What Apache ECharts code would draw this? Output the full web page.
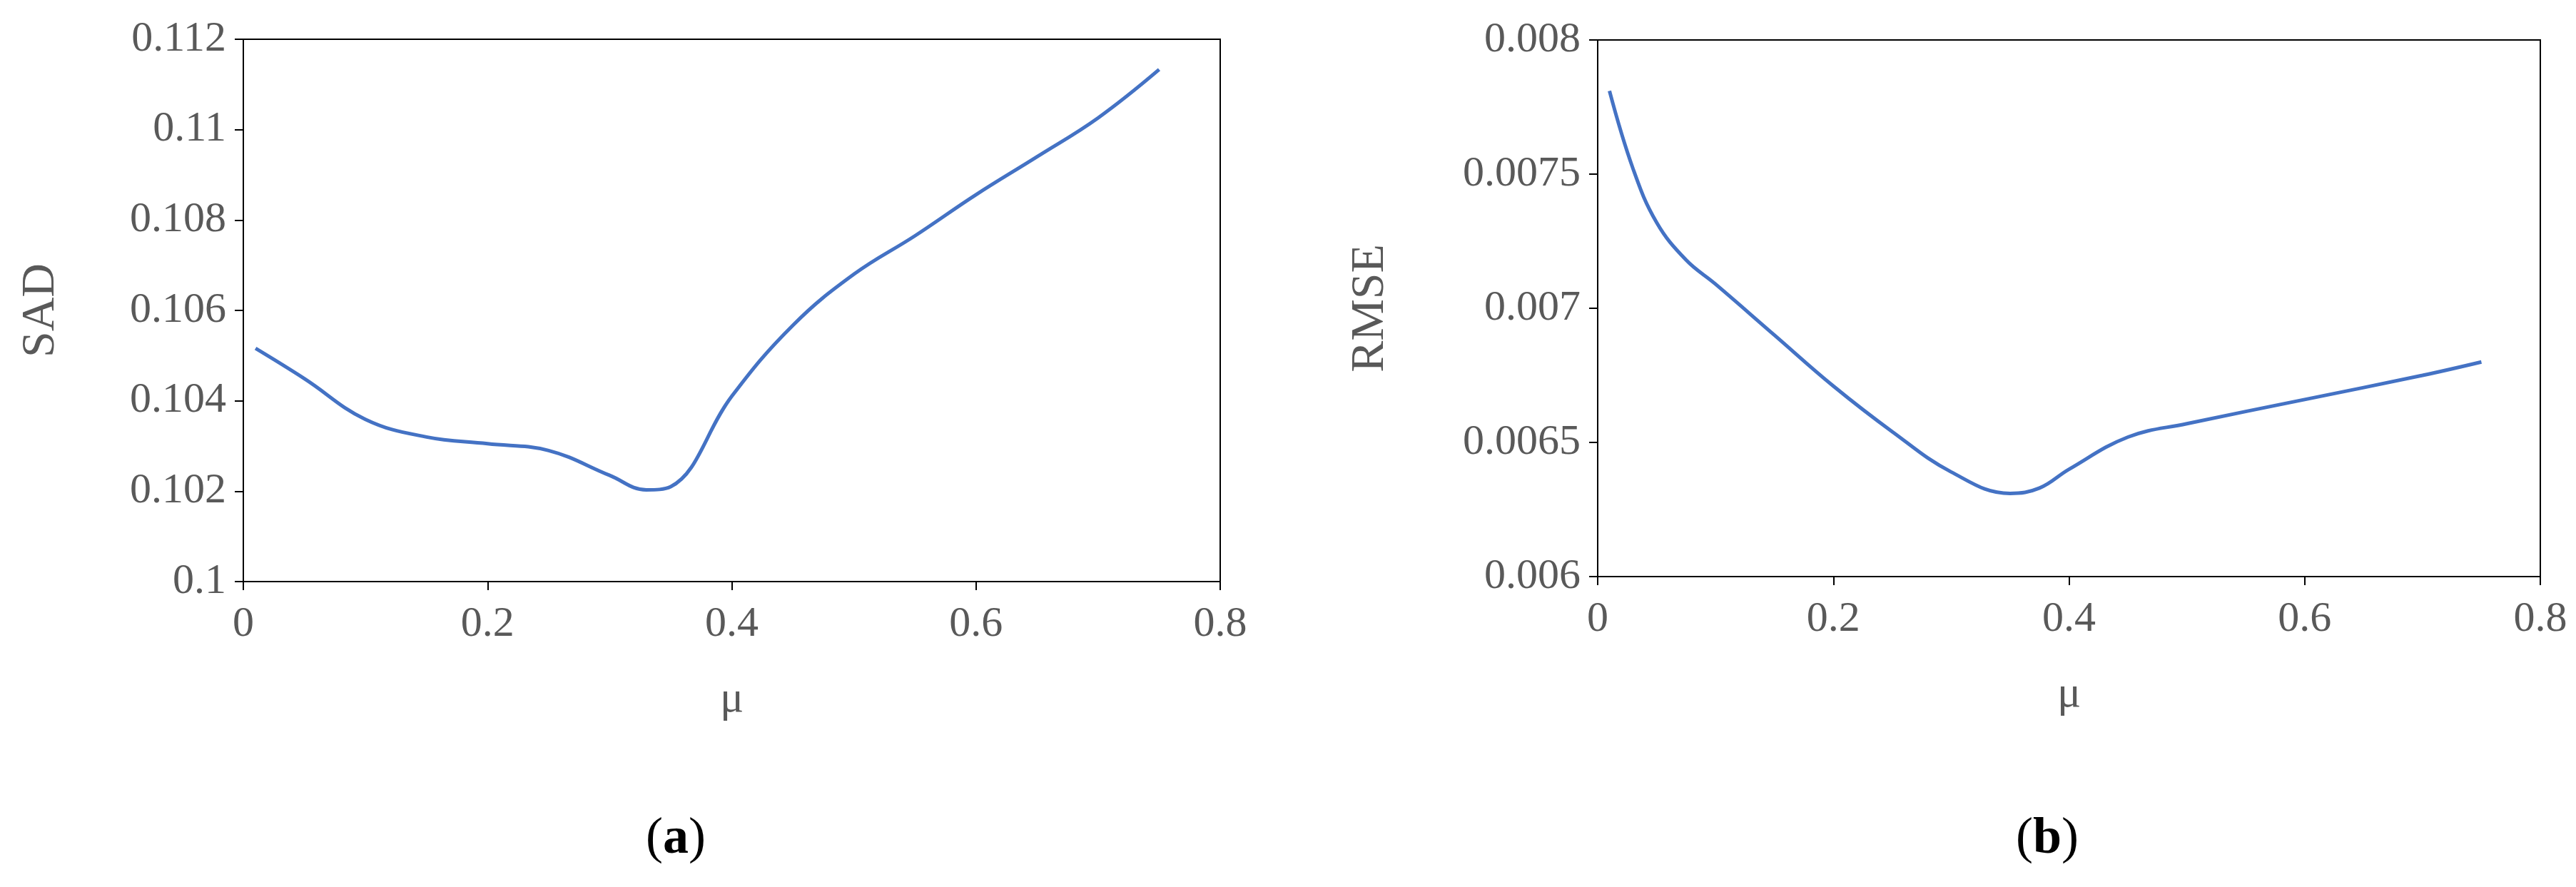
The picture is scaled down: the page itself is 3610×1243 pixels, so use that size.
<!DOCTYPE html>
<html>
<head>
<meta charset="utf-8">
<script src="https://cdn.jsdelivr.net/npm/echarts@6/dist/echarts.min.js"></script>
<style>html,body{margin:0;background:#fff}#chart{width:3610px;height:1243px}</style>
</head>
<body>
<div id="chart"></div>
<script>
// panel (a): SAD vs mu
var muA = [0.01, 0.05, 0.1, 0.15, 0.2, 0.25, 0.3, 0.33, 0.35, 0.4, 0.45, 0.5, 0.55, 0.6, 0.65, 0.7, 0.75];
var sadVals = [0.10516, 0.10449, 0.10359, 0.1032, 0.10305, 0.1029, 0.10235, 0.10203, 0.1021, 0.1041, 0.10567, 0.1068, 0.10765, 0.10856, 0.1094, 0.11026, 0.11133];
// panel (b): RMSE vs mu
var muB = [0.01, 0.03, 0.05, 0.075, 0.1, 0.15, 0.2, 0.25, 0.3, 0.35, 0.375, 0.4, 0.45, 0.5, 0.6, 0.7, 0.75];
var rmseVals = [0.00781, 0.00752, 0.00732, 0.00718, 0.00709, 0.0069, 0.00671, 0.00654, 0.00639, 0.00631, 0.00633, 0.0064, 0.00652, 0.00657, 0.00666, 0.00675, 0.0068];

var font = 'Liberation Serif';
var grey = '#595959';

function xAx(idx) {
	return {
		type : 'value', gridIndex : idx, min : 0, max : 0.8, interval : 0.2,
		name : 'μ', nameLocation : 'middle', nameGap : 135,
		nameTextStyle : { fontFamily : font, fontSize : 62, color : grey },
		axisLine : { lineStyle : { color : '#000', width : 2 } },
		axisTick : { show : true, length : 12, lineStyle : { color : '#000', width : 2 } },
		axisLabel : { fontFamily : font, fontSize : 60, color : grey, margin : 30 },
		splitLine : { show : false }
	};
}
function yAx(idx, name, min, max, step, dec, gap) {
	return {
		type : 'value', gridIndex : idx, min : min, max : max, interval : step,
		name : name, nameLocation : 'middle', nameGap : gap,
		nameTextStyle : { fontFamily : font, fontSize : 66, color : grey },
		axisLine : { show : true, lineStyle : { color : '#000', width : 2 } },
		axisTick : { show : true, length : 12, lineStyle : { color : '#000', width : 2 } },
		axisLabel : { fontFamily : font, fontSize : 60, color : grey, margin : 24,
			formatter : function(v) { return parseFloat(v.toFixed(dec)).toString(); } },
		splitLine : { show : false }
	};
}
function pairs(xs, ys) { return xs.map(function(x, i) { return [x, ys[i]]; }); }

var option = {
	animation : false,
	grid : [
		{ left : 341, top : 55, width : 1369, height : 760, show : true, borderColor : '#000', borderWidth : 2 },
		{ left : 2239, top : 56, width : 1321, height : 752, show : true, borderColor : '#000', borderWidth : 2 }
	],
	xAxis : [ xAx(0), xAx(1) ],
	yAxis : [
		yAx(0, 'SAD', 0.1, 0.112, 0.002, 3, 250),
		yAx(1, 'RMSE', 0.006, 0.008, 0.0005, 4, 285)
	],
	graphic : [
		{ type : 'text', left : 905, top : 1140, style : { text : '{p|(}{b|a}{p|)}', rich : {
			p : { fontFamily : font, fontSize : 72, fill : '#000' },
			b : { fontFamily : font, fontSize : 72, fill : '#000', fontWeight : 'bold' } } } },
		{ type : 'text', left : 2825, top : 1140, style : { text : '{p|(}{b|b}{p|)}', rich : {
			p : { fontFamily : font, fontSize : 72, fill : '#000' },
			b : { fontFamily : font, fontSize : 72, fill : '#000', fontWeight : 'bold' } } } }
	],
	series : [
		{ type : 'line', xAxisIndex : 0, yAxisIndex : 0, smooth : 0.4, showSymbol : false,
			lineStyle : { color : '#4472C4', width : 5 }, data : pairs(muA, sadVals) },
		{ type : 'line', xAxisIndex : 1, yAxisIndex : 1, smooth : 0.4, showSymbol : false,
			lineStyle : { color : '#4472C4', width : 5 }, data : pairs(muB, rmseVals) }
	]
};
var chart = echarts.init(document.getElementById('chart'));
chart.setOption(option);
</script>
</body>
</html>
